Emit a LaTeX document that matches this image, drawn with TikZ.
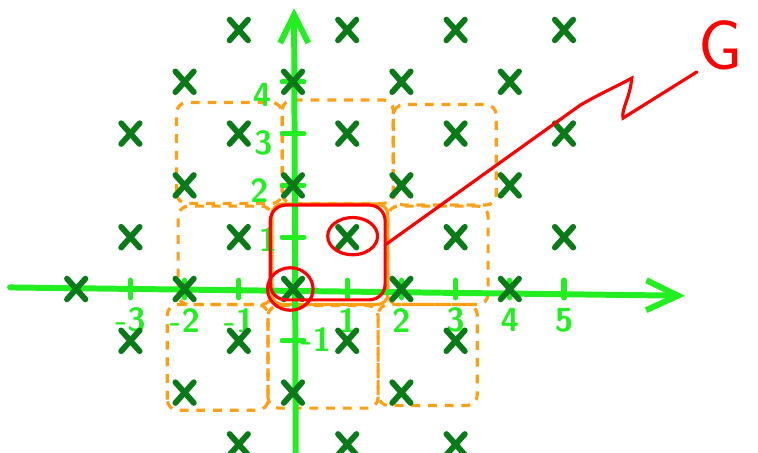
\documentclass[tikz,border=0pt]{standalone}
\usetikzlibrary{arrows.meta}
\definecolor{axgreen}{RGB}{34,238,34}
\definecolor{latgreen}{RGB}{8,122,24}
\definecolor{cellorange}{RGB}{255,160,20}
\begin{document}
\begin{tikzpicture}[x=1.084cm,y=1.036cm,
    ax/.style={axgreen,line width=3.4pt,line cap=round},
    tk/.style={axgreen,line width=3pt,line cap=round},
    lat/.style={latgreen,line width=3.3pt,line cap=round},
    lbl/.style={text=axgreen,font=\fontsize{19}{19}\selectfont\sffamily\bfseries,inner sep=0pt},
    cell/.style={cellorange,line width=1.8pt,dash pattern=on 5pt off 4.5pt,rounded corners=6pt},
    hl/.style={red,line width=1.8pt,line cap=round}
  ]
  \useasboundingbox (-5.406,-3.166) rectangle (8.579,5.579);
  % cells
  \foreach \a/\b/\c/\d in {-2.15/1.65/-0.2/3.6, -0.2/1.65/1.85/3.65, 1.85/1.62/3.75/3.56,
      -2.12/-0.3/-0.39/1.6, 1.75/-0.3/3.6/1.6,
      -2.32/-2.34/-0.46/-0.3, -0.46/-2.3/1.57/-0.32, 1.57/-2.25/3.4/-0.3}
    \draw[cell] (\a,\b) rectangle (\c,\d);
  \draw[cell,solid] (-0.39,-0.3) rectangle (1.75,1.64);
  % axes
  \coordinate (xs) at (-5.22,0.03);
  \coordinate (xe) at (7.23,-0.13);
  \coordinate (ys) at (0.05,-3.15);
  \coordinate (ye) at (0.02,5.42);
  \draw[ax,-{Straight Barb[length=18pt,width=17pt]}] (xs) -- (xe);
  \draw[ax,-{Straight Barb[length=16pt,width=16pt]}] (ys) -- (ye);
  \foreach \x in {-3,-2,-1,1,2,3,4,5}
    \draw[tk] (\x,-0.17) -- (\x,0.17);
  \foreach \y in {-1,1,2,3,4}
    \draw[tk] (-0.2,\y) -- (0.2,\y);
  \foreach \x in {-3,-2,-1,1,2,3,4,5}
    \node[lbl] (xl\x) at (\x,-0.6) {\x};
  \foreach \y/\px/\py in {1/-0.46/0.95, 2/-0.62/1.91, 3/-0.55/2.82, 4/-0.57/3.75, -1/0.42/-0.98}
    \node[lbl] (yl\y) at (\px,\py) {\y};
  % lattice
  \foreach \i/\j in {-1/5,1/5,3/5,5/5, -2/4,0/4,2/4,4/4, -3/3,-1/3,1/3,3/3,5/3,
      -2/2,0/2,2/2,4/2, -3/1,-1/1,1/1,3/1,5/1, -4/0,-2/0,0/0,2/0,4/0,
      -3/-1,-1/-1,1/-1,3/-1, -2/-2,0/-2,2/-2, -1/-3,1/-3,3/-3}
    \draw[lat] (\i,\j) ++(-0.17,0.2) -- ++(0.34,-0.4) (\i,\j) ++(0.17,0.2) -- ++(-0.34,-0.4);
  % cell of the origin
  \draw[hl,rounded corners=9pt] (-0.42,-0.21) rectangle (1.70,1.62);
  \draw[hl] (-0.05,0) ellipse [x radius=0.42,y radius=0.41];
  \draw[hl] (1.1,1.02) ellipse [x radius=0.46,y radius=0.36];
  \coordinate (r0) at (1.70,0.85);
  \coordinate (r1) at (6.25,4.07);
  \coordinate (r2) at (6.09,3.30);
  \coordinate (r3) at (7.45,4.19);
  \draw[hl] (r0) -- (5.3,3.55) to[out=30,in=208] (r1) .. controls (6.22,3.7) and (6.05,3.45) .. (r2) -- (r3);
  \node[text=red,font=\fontsize{40}{40}\selectfont\sffamily,inner sep=0pt] (g) at (7.88,4.71) {G};
\end{tikzpicture}
\end{document}
